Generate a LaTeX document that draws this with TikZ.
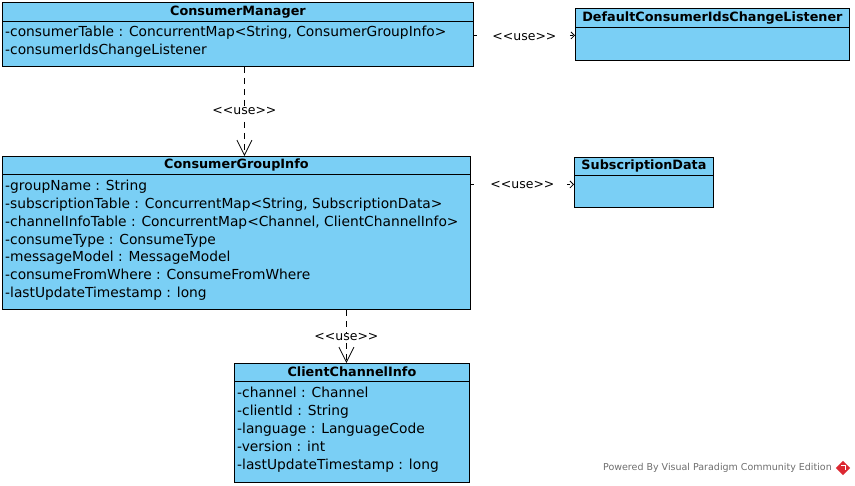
\documentclass[tikz,border=0pt]{standalone}
\usepackage{fontspec}
\setmainfont{DejaVu Sans}
\usetikzlibrary{arrows.meta}
\definecolor{vpblue}{RGB}{122,207,245}
\definecolor{vpgray}{RGB}{110,110,110}
\definecolor{vpred}{RGB}{220,40,50}
\newcommand{\uselabel}{<{}<{}use>{}>}
\begin{document}
\begin{tikzpicture}[x=1pt,y=-1pt,
  cls/.style={draw=black, fill=vpblue, line width=0.9pt, inner sep=0pt, anchor=north west},
  ctitle/.style={font=\fontsize{12.8}{14}\selectfont\bfseries, inner sep=0pt},
  attr/.style={font=\fontsize{13.8}{15}\selectfont, inner sep=0pt, anchor=base west},
  uselbl/.style={font=\fontsize{12.5}{14}\selectfont, fill=white, inner ysep=2pt, inner xsep=1pt},
  usebig/.style={dash pattern=on 6pt off 5pt, line width=0.8pt, -{Straight Barb[length=15pt, width=15pt, line width=0.8pt]}},
  usesmall/.style={dash pattern=on 3pt off 5pt, line width=0.8pt, -{Straight Barb[length=3.5pt, width=7pt, line width=0.8pt]}}
]
\useasboundingbox[fill=white] (0,0) rectangle (855,486);

% ConsumerManager
\node[cls, minimum width=471pt, minimum height=64pt] (cm) at (2,2) {};
\draw[line width=0.9pt] ([yshift=-19pt]cm.north west) -- ([yshift=-19pt]cm.north east);
\node[ctitle] (cmt) at ([yshift=-10.5pt]cm.north) {ConsumerManager};
\node[attr] (cma1) at (5,37) {-consumerTable : ConcurrentMap<String, ConsumerGroupInfo>};
\node[attr] (cma2) at (5,55) {-consumerIdsChangeListener};

% DefaultConsumerIdsChangeListener
\node[cls, minimum width=274pt, minimum height=52pt] (dl) at (575,8) {};
\draw[line width=0.9pt] ([yshift=-19pt]dl.north west) -- ([yshift=-19pt]dl.north east);
\node[ctitle] (dlt) at ([yshift=-10pt]dl.north) {DefaultConsumerIdsChangeListener};

% ConsumerGroupInfo
\node[cls, minimum width=468pt, minimum height=153pt] (cgi) at (2,156) {};
\draw[line width=0.9pt] ([yshift=-18pt]cgi.north west) -- ([yshift=-18pt]cgi.north east);
\node[ctitle] (cgit) at ([yshift=-9pt]cgi.north) {ConsumerGroupInfo};
\node[attr] (g1) at (5,191) {-groupName : String};
\node[attr] (g2) at (5,209) {-subscriptionTable : ConcurrentMap<String, SubscriptionData>};
\node[attr] (g3) at (5,227) {-channelInfoTable : ConcurrentMap<Channel, ClientChannelInfo>};
\node[attr] (g4) at (5,245) {-consumeType : ConsumeType};
\node[attr] (g5) at (5,262) {-messageModel : MessageModel};
\node[attr] (g6) at (5,280) {-consumeFromWhere : ConsumeFromWhere};
\node[attr] (g7) at (5,298) {-lastUpdateTimestamp : long};

% SubscriptionData
\node[cls, minimum width=139pt, minimum height=50pt] (sd) at (574,157) {};
\draw[line width=0.9pt] ([yshift=-18pt]sd.north west) -- ([yshift=-18pt]sd.north east);
\node[ctitle] (sdt) at ([yshift=-9pt]sd.north) {SubscriptionData};

% ClientChannelInfo
\node[cls, minimum width=235pt, minimum height=119pt] (cci) at (234,363) {};
\draw[line width=0.9pt] ([yshift=-18pt]cci.north west) -- ([yshift=-18pt]cci.north east);
\node[ctitle] (ccit) at ([yshift=-9pt]cci.north) {ClientChannelInfo};
\node[attr] (c1) at (237,398) {-channel : Channel};
\node[attr] (c2) at (237,416) {-clientId : String};
\node[attr] (c3) at (237,434) {-language : LanguageCode};
\node[attr] (c4) at (237,452) {-version : int};
\node[attr] (c5) at (237,470) {-lastUpdateTimestamp : long};

% connectors
\draw[usesmall] ([yshift=-1pt]cm.east) -- node[uselbl, pos=0.5, inner xsep=13pt, yshift=-2pt] {\uselabel} ([yshift=-1pt]dl.west);
\draw[usesmall] ([yshift=-2pt]cgi.east |- sd.west) -- node[uselbl, pos=0.5, inner xsep=13pt, yshift=-1pt] {\uselabel} ([yshift=-2pt]sd.west);
\draw[usebig] ([xshift=6.5pt]cm.south) -- node[uselbl, pos=0.5] {\uselabel} ([xshift=6.5pt]cm.south |- cgi.north);
\draw[usebig] ([xshift=-5.5pt]cci.north |- cgi.south) -- node[uselbl, pos=0.5, yshift=-1pt, inner ysep=0.5pt] {\uselabel} ([xshift=-5.5pt]cci.north);

% watermark
\node[font=\fontsize{9.5}{11}\selectfont, text=vpgray, anchor=east, inner sep=0pt] (wm) at (832,468) {Powered By Visual Paradigm Community Edition};
\node[fill=vpred, rotate=45, minimum size=10pt, inner sep=0pt] (logo) at (843,468) {};
\draw[white, line width=1pt] (logo.center) ++(-2,-2) -- ++(4,0) -- ++(0,4);
\end{tikzpicture}
\end{document}
